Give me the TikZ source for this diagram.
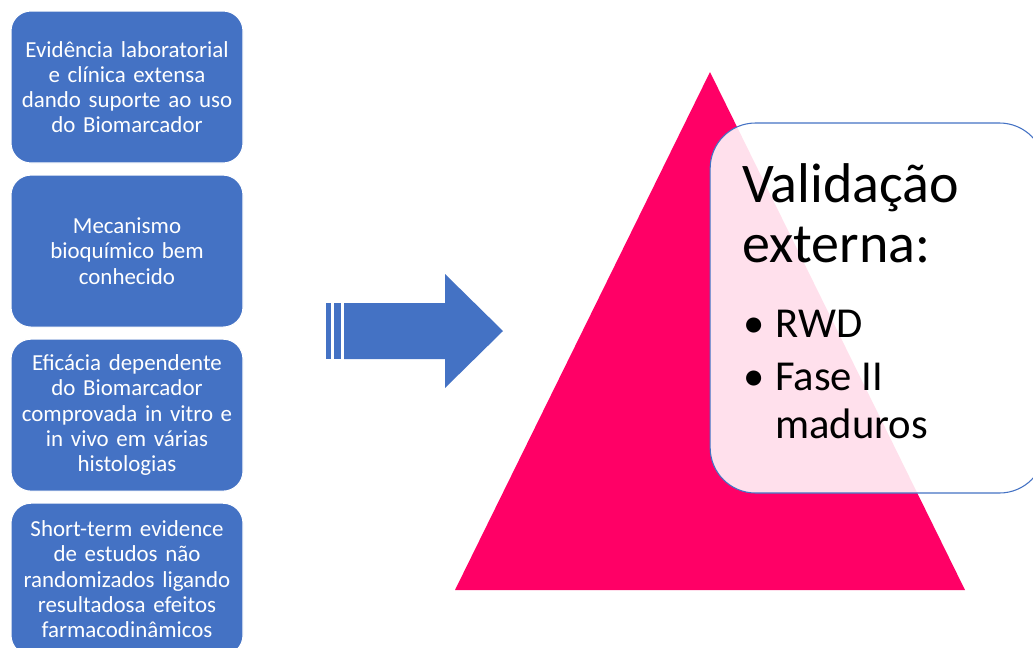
\documentclass[tikz,border=0pt]{standalone}
\usepackage{fontspec}
\setmainfont{Carlito}
\usetikzlibrary{positioning}
\begin{document}
\begin{tikzpicture}[x=0.75pt,y=-0.75pt,
  evbox/.style={draw=white,line width=0.8pt,fill=customcolor1,rounded corners=15pt,
    minimum width=174pt,minimum height=114pt,text width=170pt,inner sep=0pt,
    align=center,text=white,font=\fontsize{17.2}{18.9}\selectfont},
  callout/.style={draw=customcolor1,line width=0.8pt,fill=white,fill opacity=0.88,
    rounded corners=34pt,minimum width=251pt,minimum height=277.5pt},
  titletext/.style={anchor=base west,inner sep=0pt,font=\fontsize{42}{45}\selectfont},
  itemtext/.style={anchor=base west,inner sep=0pt,font=\fontsize{32}{36}\selectfont}]
\definecolor{customcolor0}{HTML}{000000}
\definecolor{customcolor1}{HTML}{4472C4}
\definecolor{customcolor2}{HTML}{FF0066}
\useasboundingbox (0,0) rectangle (1033,647);
% left column
\node[evbox] (ev1) at (127,87) {Evidência laboratorial\\e clínica extensa\\dando suporte ao uso\\do Biomarcador};
\node[evbox,below=8.25pt of ev1] (ev2) {Mecanismo\\bioquímico bem\\conhecido};
\node[evbox,below=8.25pt of ev2] (ev3) {Eficácia dependente\\do Biomarcador\\comprovada in vitro e\\in vivo em várias\\histologias};
\node[evbox,below=8.25pt of ev3] (ev4) {Short-term evidence\\de estudos não\\randomizados ligando\\resultadosa efeitos\\farmacodinâmicos};
% striped arrow
\fill[customcolor1] (326,303) rectangle (331,359);
\fill[customcolor1] (334,303) rectangle (341,359);
\fill[customcolor1] (344,303) -- (445,303) -- (445,274) -- (503,331) -- (445,388) -- (445,359) -- (344,359) -- cycle;
% triangle
\fill[customcolor2] (455,590) -- (710,72) -- (965,590) -- cycle;
% callout
\node[callout] (val) at (877.5,308) {};
\node[titletext] (tit1) at (742,202) {Validação};
\node[titletext] (tit2) at (742,262) {externa:};
\node[itemtext] (b1) at (743,337) {•};
\node[itemtext] (it1) at (775,337) {RWD};
\node[itemtext] (b2) at (743,390) {•};
\node[itemtext] (it2) at (775,390) {Fase II};
\node[itemtext] (it3) at (775,438) {maduros};
\end{tikzpicture}
\end{document}
